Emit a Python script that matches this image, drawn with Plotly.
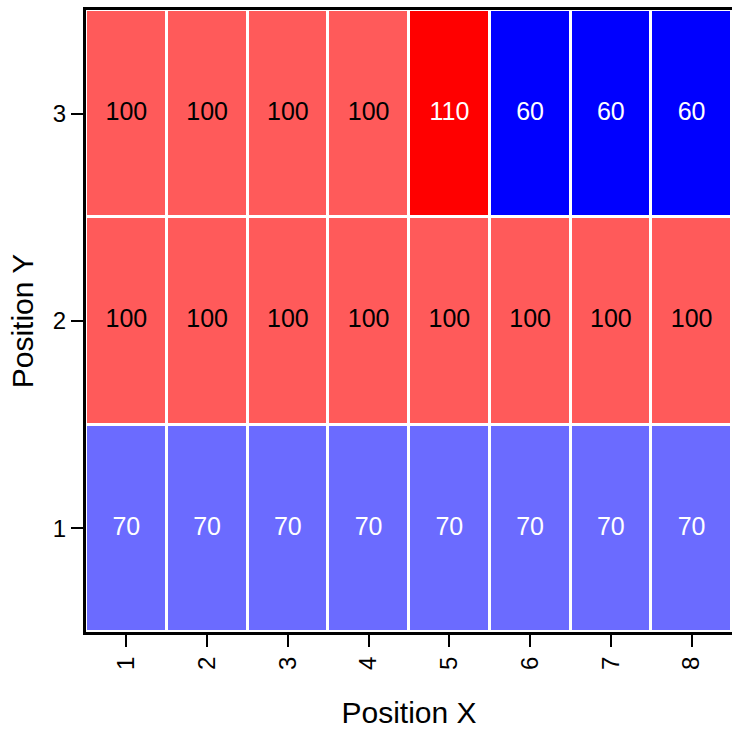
import plotly.graph_objects as go

# Grid positions and cell values
pos_x = [1, 2, 3, 4, 5, 6, 7, 8]
pos_y = [1, 2, 3]
values_row1 = [70, 70, 70, 70, 70, 70, 70, 70]
values_row2 = [100, 100, 100, 100, 100, 100, 100, 100]
values_row3 = [100, 100, 100, 100, 110, 60, 60, 60]
z = [values_row1, values_row2, values_row3]

FONT = "Liberation Sans, Arial, sans-serif"

colorscale = [
    [0.0, "#0000FF"],
    [0.2, "#6B6BFF"],
    [0.46, "#FFFFFF"],
    [0.8, "#FF5A5A"],
    [1.0, "#FF0000"],
]

fig = go.Figure()
fig.add_trace(go.Heatmap(
    x=pos_x, y=pos_y, z=z,
    zmin=60, zmax=110,
    colorscale=colorscale,
    showscale=False,
    xgap=3, ygap=3,
    hoverinfo="skip",
))

# Value labels: dark text on the pale red cells, white elsewhere
tx, ty, tt, tc = [], [], [], []
for j, row in enumerate(z):
    for i, v in enumerate(row):
        tx.append(pos_x[i])
        ty.append(pos_y[j])
        tt.append(str(v))
        tc.append("black" if v == 100 else "white")

fig.add_trace(go.Scatter(
    x=tx, y=ty, text=tt, mode="text",
    textfont=dict(family=FONT, size=25, color=tc),
    hoverinfo="skip", showlegend=False,
))

fig.update_layout(
    width=732, height=729,
    margin=dict(l=86, r=0, t=10, b=97),
    paper_bgcolor="white",
    plot_bgcolor="white",
    font=dict(family=FONT, color="black"),
    showlegend=False,
)

fig.update_xaxes(
    range=[0.5, 8.5],
    tickmode="array", tickvals=pos_x, ticktext=[str(v) for v in pos_x],
    tickangle=-90,
    ticks="outside", ticklen=12, tickwidth=2, tickcolor="black",
    tickfont=dict(size=24, family=FONT),
    showline=True, linecolor="black", linewidth=3, mirror=True,
    showgrid=False, zeroline=False,
    title=dict(text="Position X", font=dict(size=30, family=FONT), standoff=36),
)
fig.update_yaxes(
    range=[0.5, 3.5],
    tickmode="array", tickvals=pos_y, ticktext=[str(v) for v in pos_y],
    ticks="outside", ticklen=12, tickwidth=2, tickcolor="black",
    tickfont=dict(size=24, family=FONT),
    showline=True, linecolor="black", linewidth=3, mirror=False,
    showgrid=False, zeroline=False,
    title=dict(text="Position Y", font=dict(size=30, family=FONT), standoff=11),
)

fig.write_html("out.html")
